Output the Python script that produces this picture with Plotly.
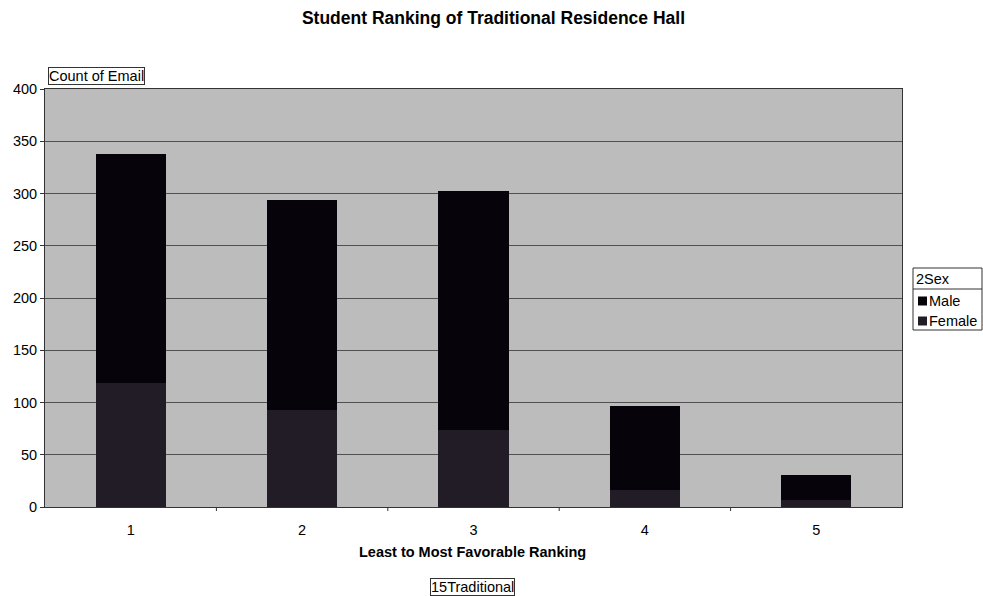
import plotly.graph_objects as go

# Ranking categories (least to most favorable)
rankings = ["1", "2", "3", "4", "5"]

# Count of Email per ranking, split by sex (stacked: Female at bottom, Male on top)
female_counts = [119, 93, 74, 16, 7]
totals = [338, 294, 302, 97, 31]
male_counts = [t - f for t, f in zip(totals, female_counts)]

y_ticks = [0, 50, 100, 150, 200, 250, 300, 350, 400]

FONT = "Liberation Sans, Arial, sans-serif"
FS = 14.5
W, H = 983, 596
L, R, T, B = 45, 81, 89, 89
PW, PH = W - L - R, H - T - B


def px(x):
    """page x pixel -> plot-area paper fraction"""
    return (x - L) / PW


def py(y):
    """page y pixel -> plot-area paper fraction"""
    return (H - B - y) / PH


fig = go.Figure()
fig.add_trace(go.Bar(
    x=rankings, y=female_counts, name="Female",
    marker=dict(color="#221c26", line=dict(width=0)),
))
fig.add_trace(go.Bar(
    x=rankings, y=male_counts, name="Male",
    marker=dict(color="#07030b", line=dict(width=0)),
))

fig.update_layout(
    width=W, height=H,
    margin=dict(l=L, r=R, t=T, b=B),
    barmode="stack",
    bargap=0.59,
    paper_bgcolor="white",
    plot_bgcolor="#bcbcbc",
    font=dict(family=FONT, size=FS, color="black"),
    title=dict(
        text="<b>Student Ranking of Traditional Residence Hall</b>",
        x=0.502, xanchor="center", y=1 - 18 / H, yanchor="middle",
        font=dict(family=FONT, size=17.5, color="black"),
    ),
    showlegend=False,
    xaxis=dict(
        type="category",
        showgrid=False,
        showline=True, linecolor="#333", linewidth=1,
        mirror=True,
        ticks="outside", ticklen=10, tickcolor="rgba(0,0,0,0)",
        tickfont=dict(size=FS),
    ),
    yaxis=dict(
        range=[0, 400],
        tickvals=y_ticks,
        showgrid=True, gridcolor="#505050", gridwidth=1,
        showline=True, linecolor="#333", linewidth=1,
        mirror=True,
        ticks="outside", ticklen=4, tickcolor="#333",
        tickfont=dict(size=FS),
        zeroline=False,
    ),
)

# category separator tick marks along the x axis
for i in range(1, len(rankings)):
    fig.add_shape(type="line", xref="x", yref="paper",
                  x0=i - 0.5, x1=i - 0.5, y0=0, y1=-4 / PH,
                  line=dict(color="#333", width=1))

# x axis title
fig.add_annotation(text="<b>Least to Most Favorable Ranking</b>", xref="paper", yref="paper",
                   x=px(472), y=py(552), xanchor="center", yanchor="middle",
                   showarrow=False, font=dict(size=FS))

# pivot field buttons
fig.add_annotation(text="Count of Email", xref="paper", yref="paper",
                   x=px(48), y=py(85), xanchor="left", yanchor="bottom",
                   showarrow=False, bordercolor="#333", borderwidth=1,
                   borderpad=0, bgcolor="white", font=dict(size=FS))
fig.add_annotation(text="15Traditional", xref="paper", yref="paper",
                   x=px(472), y=py(578), xanchor="center", yanchor="top",
                   showarrow=False, bordercolor="#333", borderwidth=1,
                   borderpad=0, bgcolor="white", font=dict(size=FS))

# legend box with field header, coloured from the traces
leg_x0, leg_x1 = 913, 982
leg_top, header_bot, leg_bot = 268, 289, 330
fig.add_shape(type="rect", xref="paper", yref="paper",
              x0=px(leg_x0), x1=px(leg_x1), y0=py(leg_bot), y1=py(leg_top),
              line=dict(color="#333", width=1), fillcolor="white", layer="above")
fig.add_shape(type="line", xref="paper", yref="paper",
              x0=px(leg_x0), x1=px(leg_x1), y0=py(header_bot), y1=py(header_bot),
              line=dict(color="#333", width=1), layer="above")
fig.add_annotation(text="2Sex", xref="paper", yref="paper",
                   x=px(leg_x0 + 1), y=py((leg_top + header_bot) / 2), xanchor="left", yanchor="middle",
                   showarrow=False, font=dict(size=FS))
legend_rows = [("Male", fig.data[1].marker.color, 301), ("Female", fig.data[0].marker.color, 321)]
for label, col, yc in legend_rows:
    fig.add_shape(type="rect", xref="paper", yref="paper",
                  x0=px(leg_x0 + 5), x1=px(leg_x0 + 14), y0=py(yc + 4.5), y1=py(yc - 4.5),
                  line=dict(width=0), fillcolor=col, layer="above")
    fig.add_annotation(text=label, xref="paper", yref="paper",
                       x=px(leg_x0 + 14), y=py(yc), xanchor="left", yanchor="middle",
                       showarrow=False, font=dict(size=FS))

fig.write_html("out.html")
